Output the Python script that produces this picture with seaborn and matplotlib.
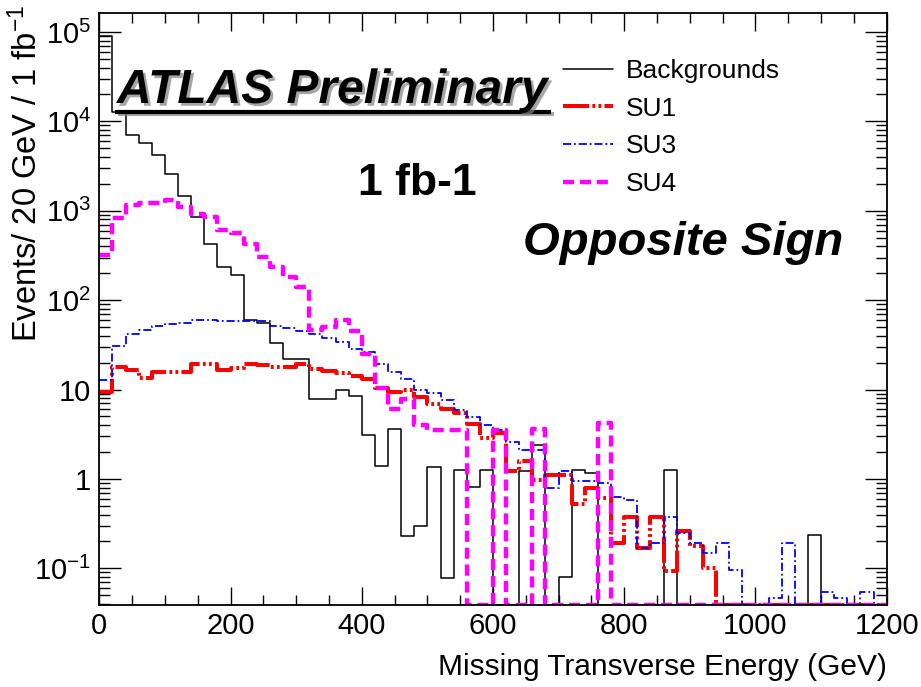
import numpy as np
import pandas as pd
import matplotlib
matplotlib.use("Agg")
import matplotlib.pyplot as plt
import matplotlib.ticker as mticker
import matplotlib.patheffects as pe
from matplotlib.lines import Line2D
import seaborn as sns

# 20 GeV bins between 0 and 1200 GeV
bin_edges = np.arange(0, 1201, 20)
bin_centers = bin_edges[:-1] + 10

# Events / 20 GeV / 1 fb^-1 in each bin (0 = empty bin)
backgrounds = [90000, 12800, 7000, 5700, 4200, 2600, 1460, 855, 430, 236,
               190, 60, 56, 33, 22, 22, 7.9, 7.9, 10, 8.4,
               3.1, 1.4, 3.65, 0.23, 0.30, 1.36, 0.078, 1.27, 0.81, 1.25,
               0, 0, 1.24, 2.37, 0, 0.081, 1.25, 1.17, 0, 0,
               0, 0, 0, 1.25, 0, 0, 0, 0, 0, 0,
               0, 0, 0, 0, 0.235, 0, 0, 0, 0, 0]
su1 = [9.5, 17.9, 16.4, 13.6, 15.7, 15.7, 15.7, 19.1, 19.1, 16.4,
       17.6, 19.1, 18.6, 17.9, 18.1, 19.5, 17, 16.1, 15.3, 14.1,
       13.2, 10.5, 9.4, 10, 8.2, 6.9, 6.1, 5.4, 4.1, 2.9,
       3.3, 1.24, 1.6, 0.97, 1.1, 1.1, 0.53, 0.8, 0.61, 0.19,
       0.38, 0.17, 0.38, 0.093, 0.26, 0.18, 0.1, 0, 0, 0,
       0, 0, 0, 0, 0, 0, 0, 0, 0, 0]
su3 = [12.9, 31, 42, 46, 52, 54, 56, 60, 60, 59,
       59, 59, 58, 52, 49, 45, 42, 38, 34, 28.7,
       26, 19.5, 15.7, 13, 10, 9.2, 7.6, 5.9, 4.9, 4.0,
       3.5, 2.6, 2.1, 2.1, 0.79, 1.24, 0.96, 0.96, 0.9, 0.63,
       0.58, 0.17, 0.19, 0.38, 0.25, 0.19, 0.15, 0.19, 0.095, 0,
       0, 0.047, 0.19, 0, 0, 0.054, 0.047, 0, 0.054, 0]
su4 = [318, 820, 1155, 1230, 1230, 1310, 1090, 930, 855, 605,
       557, 430, 305, 236, 182, 141, 46, 50, 60, 45,
       25, 10.5, 6.1, 7.8, 4.0, 3.5, 3.5, 3.5, 0, 0,
       3.5, 0, 0, 3.65, 0, 0, 0, 0, 4.2, 0,
       0, 0, 0, 0, 0, 0, 0, 0, 0, 0,
       0, 0, 0, 0, 0, 0, 0, 0, 0, 0]

series_labels = ["Backgrounds", "SU1", "SU3", "SU4"]
xtick_values = [0, 200, 400, 600, 800, 1000, 1200]
xtick_labels = ["0", "200", "400", "600", "800", "1000", "1200"]
ytick_values = [0.1, 1, 10, 100, 1e3, 1e4, 1e5]
ytick_labels = [r"$\mathregular{10^{-1}}$", "1", "10", r"$\mathregular{10^{2}}$",
                r"$\mathregular{10^{3}}$", r"$\mathregular{10^{4}}$", r"$\mathregular{10^{5}}$"]

sns.set_style("ticks")
plt.rcParams["font.family"] = ["Liberation Sans", "DejaVu Sans"]
plt.rcParams["text.color"] = "black"
plt.rcParams["axes.labelcolor"] = "black"
plt.rcParams["mathtext.fontset"] = "custom"
plt.rcParams["mathtext.rm"] = "Liberation Sans"
plt.rcParams["mathtext.it"] = "Liberation Sans:italic"
plt.rcParams["mathtext.bf"] = "Liberation Sans:bold"

YMIN, YMAX = 0.0389, 1.644e5

fig = plt.figure(figsize=(9.21, 6.87), dpi=100, facecolor="white")
ax = fig.add_axes([99.3 / 921, 1 - 605 / 687, (886.7 - 99.3) / 921, (605 - 12.7) / 687])
ax.set_facecolor("white")

styles = [
    dict(color="black", linewidth=1.1, linestyle="-"),
    dict(color="#ff0000", linewidth=2.9, linestyle=(0, (6.5, 0.8, 0.7, 0.8, 0.7, 0.8))),
    dict(color="#0000ff", linewidth=1.3, linestyle=(0, (4.5, 1.6, 1.0, 1.6))),
    dict(color="#ff00ff", linewidth=3.2, linestyle=(0, (2.5, 1.3))),
]

handles = []
for values, style in zip([backgrounds, su1, su3, su4], styles):
    # empty bins are drawn along the lower frame edge, as on a log histogram
    heights = np.clip(np.asarray(values, dtype=float), YMIN, None)
    df = pd.DataFrame({"met": bin_centers, "events": heights})
    sns.histplot(data=df, x="met", weights="events", binwidth=20, binrange=(0, 1200),
                 element="step", fill=False, ax=ax, **style)
    handles.append(ax.lines[-1])

ax.set_yscale("log")
ax.set_xlim(0, 1200)
ax.set_ylim(YMIN, YMAX)
ax.set_xticks(xtick_values)
ax.set_xticklabels(xtick_labels)
ax.xaxis.set_minor_locator(mticker.MultipleLocator(50))
ax.set_yticks(ytick_values)
ax.set_yticklabels(ytick_labels)
ax.yaxis.set_minor_locator(mticker.LogLocator(base=10, subs=np.arange(2, 10), numticks=100))
ax.yaxis.set_minor_formatter(mticker.NullFormatter())

ax.tick_params(which="both", direction="in", top=True, right=True, width=1.0,
               color="black", labelcolor="black", labelsize=21)
ax.tick_params(axis="x", which="major", length=13, pad=5)
ax.tick_params(axis="x", which="minor", length=7)
ax.tick_params(axis="y", which="major", length=16, pad=6)
ax.tick_params(axis="y", which="minor", length=8)
for spine in ax.spines.values():
    spine.set_linewidth(1.3)
    spine.set_color("black")

ax.set_xlabel("Missing Transverse Energy (GeV)", fontsize=21.5, loc="right", color="black")
ax.xaxis.set_label_coords(1.0, -0.081)
ax.set_ylabel("Events/ 20 GeV / 1 fb$^{-1}$", fontsize=23.5, loc="top", color="black")
ax.yaxis.set_label_coords(-0.07, 1.014)

leg = ax.legend(handles, series_labels, loc="upper left",
                bbox_to_anchor=(563 / 921, 1 - 59 / 687), bbox_transform=fig.transFigure,
                frameon=False, fontsize=19, handlelength=1.9, handletextpad=0.5,
                labelspacing=0.52, borderpad=0, borderaxespad=0)
for txt in leg.get_texts():
    txt.set_color("black")

shadow = [pe.SimplePatchShadow(offset=(2, -2), shadow_rgbFace="0.5", alpha=0.7), pe.Normal()]
fig.text(117 / 921, 1 - 103 / 687, "ATLAS Preliminary", fontsize=34.5, fontweight="bold",
         fontstyle="italic", ha="left", va="baseline", color="black", path_effects=shadow)
fig.add_artist(Line2D([115 / 921, 551 / 921], [1 - 111.5 / 687] * 2, color="black", lw=3,
                      solid_capstyle="butt",
                      path_effects=[pe.SimpleLineShadow(offset=(2, -2), shadow_color="0.5", alpha=0.7),
                                    pe.Normal()]))
fig.text(358 / 921, 1 - 195 / 687, "1 fb-1", fontsize=32, fontweight="bold",
         ha="left", va="baseline", color="black")
fig.text(523 / 921, 1 - 255 / 687, "Opposite Sign", fontsize=34, fontweight="bold",
         fontstyle="italic", ha="left", va="baseline", color="black")

fig.savefig("out.png", dpi=100, facecolor="white")
